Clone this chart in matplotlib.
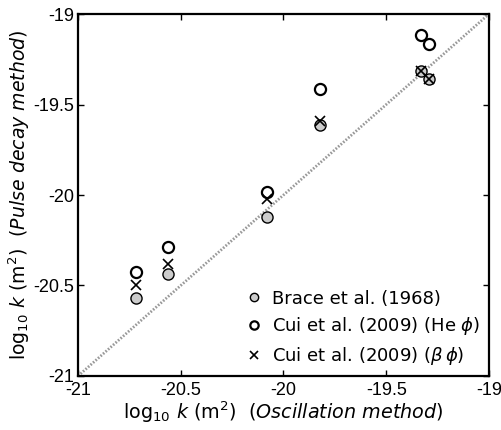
import numpy as np
import matplotlib.pyplot as plt

# log10 permeability: oscillation method (x) vs pulse decay method (y)
osc_k = [-20.718, -20.562, -20.082, -19.822, -19.332, -19.292]
brace_k = [-20.571, -20.438, -20.120, -19.613, -19.315, -19.361]
cui_he_k = [-20.427, -20.289, -19.985, -19.416, -19.116, -19.164]
cui_beta_k = [-20.495, -20.383, -20.020, -19.590, -19.315, -19.361]

ticks = [-21, -20.5, -20, -19.5, -19]
tick_labels = ['-21', '-20.5', '-20', '-19.5', '-19']

fig = plt.figure(figsize=(5.01, 4.30), dpi=100)
ax = fig.add_axes([0.1557, 0.1256, 0.8203, 0.8418])

# 1:1 line
ax.plot([-21, -19], [-21, -19], linestyle=(0, (0.6, 0.6)), color='#999999', lw=2.0, zorder=1)

ax.plot(osc_k, brace_k, 'o', ms=8, mfc='#cccccc', mec='black', mew=1.0,
        label='Brace et al. (1968)', zorder=2)
ax.plot(osc_k, cui_he_k, 'o', ms=8, mfc='none', mec='black', mew=1.6,
        label=r'Cui et al. (2009) (He $\phi$)', zorder=3)
ax.plot(osc_k, cui_beta_k, 'x', ms=7, color='black', mew=1.2,
        label=r'Cui et al. (2009) ($\beta\,\phi$)', zorder=4)

ax.set_xlim(-21, -19)
ax.set_ylim(-21, -19)
ax.set_xticks(ticks)
ax.set_yticks(ticks)
ax.set_xticklabels(tick_labels, family='Liberation Sans', fontsize=13)
ax.set_yticklabels(tick_labels, family='Liberation Sans', fontsize=13)
ax.tick_params(direction='in', length=4, width=1, top=True, right=True, pad=3)
ax.tick_params(axis='x', pad=4)
for s in ax.spines.values():
    s.set_linewidth(1.6)

ax.set_xlabel(r'log$_{10}$ $k$ (m$^2$)  ($\it{Oscillation\ method}$)', fontsize=13.8, labelpad=1)
ax.set_ylabel(r'log$_{10}$ $k$ (m$^2$)  ($\it{Pulse\ decay\ method}$)', fontsize=13.6, labelpad=1)

ax.legend(loc='lower right', frameon=False, fontsize=13, handletextpad=0.4,
          borderaxespad=0.1, handlelength=1.2, labelspacing=0.42, markerscale=0.75)

fig.savefig('out.png', dpi=100)
